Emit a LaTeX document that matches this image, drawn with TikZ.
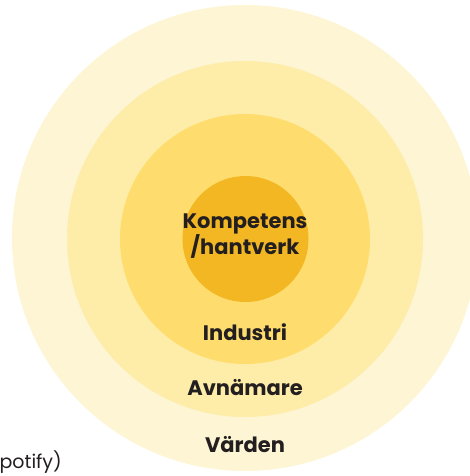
\documentclass[tikz,border=0pt]{standalone}
\usepackage{fontspec}
\setmainfont{Poppins}
\usetikzlibrary{positioning}
\definecolor{ringouter}{HTML}{FDF5D3}
\definecolor{ringsecond}{HTML}{FEEDA8}
\definecolor{ringthird}{HTML}{FEDD6E}
\definecolor{ringcore}{HTML}{F2B723}
\definecolor{textdark}{HTML}{231F20}
\tikzset{
  ringtext/.style={font=\bfseries\fontsize{21}{23}\selectfont, text=textdark, align=center, inner sep=0pt}
}

\begin{document}
\begin{tikzpicture}[x=1pt,y=-1pt]
  \useasboundingbox (0,0) rectangle (470,476);
  \clip (0,0) rectangle (470,476);
  % rings, outside in
  \fill[ringouter] (245,238) circle (233pt);
  \fill[ringsecond] (245,239) circle (178pt);
  \fill[ringthird] (245,239) circle (125pt);
  \fill[ringcore] (245.5,239) circle (63pt);

  \node[ringtext] (core) at (245,236) {Kompetens\\/hantverk};
  \node[ringtext] (industri) at (245,332) {Industri};
  \node[ringtext] (avnamare) at (245,388) {Avnämare};
  \node[ringtext] (varden) at (245,445) {Värden};

  \node[anchor=base east, inner sep=0pt, text=textdark, font=\fontsize{19}{21}\selectfont] (spotify) at (62,468) {potify)};
\end{tikzpicture}
\end{document}
